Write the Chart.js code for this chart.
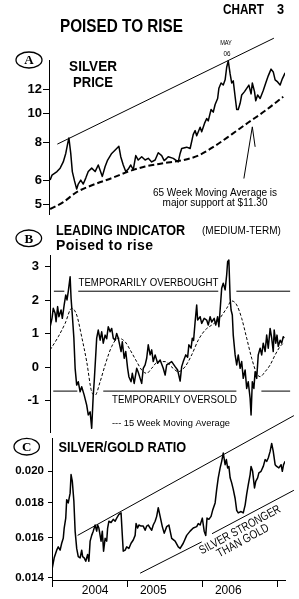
<!DOCTYPE html>
<html>
<head>
<meta charset="utf-8">
<script src="https://cdn.jsdelivr.net/npm/chart.js@4.4.1/dist/chart.umd.min.js"></script>
<style>
  html, body { margin: 0; padding: 0; background: #fff; }
  #wrap { position: relative; width: 299px; height: 599px; overflow: hidden; }
  #wrap canvas { position: absolute; left: 0; top: 0; }
</style>
</head>
<body>
<div id="wrap">
  <canvas id="silverChart" width="299" height="599"></canvas>
  <canvas id="indicatorChart" width="299" height="599"></canvas>
  <canvas id="ratioChart" width="299" height="599"></canvas>
</div>
<script>
// x values are months since January 2004
var silverPrice = [[-0.3,6.03],[0.0,6.26],[0.8,6.43],[1.3,6.6],[1.8,6.92],[2.2,7.38],[2.5,7.93],[2.7,8.3],[3.0,7.38],[3.25,6.43],[3.6,5.99],[3.95,5.63],[4.2,5.85],[4.6,6.03],[5.0,5.85],[5.4,6.12],[5.8,6.43],[6.35,6.6],[6.9,6.43],[7.4,6.76],[8.05,6.2],[8.5,6.68],[8.9,7.02],[9.55,7.38],[10.35,7.66],[10.7,7.79],[11.0,7.2],[11.4,6.76],[11.8,6.43],[12.2,6.55],[12.6,6.76],[13.0,6.52],[13.4,7.26],[13.8,7.02],[14.35,7.2],[14.9,7.02],[15.4,7.11],[15.95,6.92],[16.5,7.02],[17.0,7.42],[17.55,7.26],[17.95,6.99],[18.35,7.11],[18.6,7.2],[19.4,7.11],[20.2,6.92],[20.5,7.38],[20.75,7.66],[21.55,7.74],[22.1,7.66],[22.6,8.53],[22.9,8.78],[23.15,8.44],[23.7,9.0],[23.95,8.7],[24.4,9.27],[24.75,9.62],[25.0,9.45],[25.45,10.3],[25.8,10.1],[26.1,10.7],[26.5,11.2],[26.7,12.1],[27.05,12.6],[27.4,12.4],[27.7,12.9],[27.95,14.2],[28.2,14.9],[28.5,13.5],[28.75,12.6],[29.0,12.8],[29.3,11.35],[29.55,10.3],[29.8,10.3],[30.1,10.8],[30.35,11.5],[30.8,11.8],[31.5,12.4],[31.85,11.6],[32.05,12.6],[32.4,11.8],[32.6,11.0],[32.9,11.5],[33.3,11.2],[33.8,11.9],[34.2,12.6],[34.6,13.3],[35.05,14.0],[35.4,13.7],[35.7,12.9],[36.1,12.7],[36.5,12.4],[36.85,13.0],[37.3,13.6]];
var silverAverage = [[-0.3,4.84],[1.8,5.1],[3.95,5.5],[6.9,5.85],[9.55,6.12],[12.2,6.43],[14.9,6.68],[17.8,6.85],[20.75,7.0],[23.4,7.26],[26.1,7.82],[28.75,8.53],[31.4,9.33],[34.1,10.2],[37.0,11.35]];
var silverTrend = [[0.85,7.92],[35.5,17.7]];
var silverPointer = [[30.7,6.1],[32.05,9.03],[32.5,7.76]];
var silverTicks = [5, 6, 8, 10, 12];

var indicator = [[-0.3,1.21],[0.0,1.46],[0.2,1.76],[0.5,1.61],[0.65,1.36],[0.9,1.81],[1.1,1.51],[1.45,1.71],[1.65,1.46],[1.95,1.86],[2.2,2.16],[2.4,2.01],[2.6,2.26],[2.9,2.7],[3.05,2.06],[3.25,1.56],[3.5,0.87],[3.7,-0.03],[3.95,-0.53],[4.2,-0.43],[4.5,-0.73],[4.75,-0.58],[5.15,-0.83],[5.55,-1.13],[5.8,-1.42],[6.1,-1.33],[6.35,-1.82],[6.6,-0.83],[6.75,-0.43],[7.0,0.37],[7.15,0.87],[7.4,1.11],[7.7,0.81],[7.95,1.06],[8.2,0.72],[8.5,0.96],[8.75,0.85],[9.0,1.21],[9.3,1.06],[9.55,1.16],[9.8,0.87],[10.1,0.81],[10.35,1.01],[10.6,0.87],[11.05,0.47],[11.25,0.76],[11.55,0.27],[11.8,0.47],[12.1,-0.03],[12.3,-0.28],[12.65,-0.43],[12.85,-0.18],[13.15,-0.48],[13.55,-0.03],[13.8,-0.15],[14.1,-0.33],[14.35,-0.48],[14.6,-0.03],[14.9,0.07],[15.15,0.27],[15.4,0.67],[15.7,0.37],[15.95,0.52],[16.2,0.17],[16.5,0.37],[16.9,0.12],[17.3,0.22],[17.8,-0.03],[18.1,-0.23],[18.35,0.07],[18.6,0.1],[19.15,0.17],[19.7,0.02],[20.1,-0.08],[20.5,-0.41],[20.75,0.02],[21.0,0.17],[21.4,0.37],[21.7,0.3],[21.9,0.67],[22.25,0.57],[22.45,0.87],[22.65,0.8],[22.9,1.36],[23.15,1.86],[23.3,1.41],[23.7,1.51],[23.95,1.31],[24.35,1.46],[24.75,1.41],[25.0,1.26],[25.3,1.51],[25.55,1.35],[25.95,1.46],[26.2,1.26],[26.5,1.51],[26.7,1.21],[26.9,1.71],[27.15,2.36],[27.4,2.51],[27.7,2.31],[27.95,2.76],[28.1,3.15],[28.3,3.2],[28.5,2.06],[28.65,1.71],[28.85,1.56],[29.0,0.96],[29.3,0.37],[29.55,0.07],[29.8,0.37],[30.1,-0.03],[30.35,0.17],[30.6,-0.33],[30.9,-0.08],[31.15,-0.63],[31.4,-0.43],[31.7,-0.93],[31.85,-1.42],[32.05,-0.43],[32.3,-0.63],[32.5,-0.13],[32.75,-0.33],[33.0,0.37],[33.3,0.57],[33.55,0.37],[33.8,0.72],[34.1,0.47],[34.35,0.96],[34.6,0.57],[34.9,1.16],[35.15,0.87],[35.4,0.47],[35.55,1.11],[35.8,0.72],[36.0,0.96],[36.2,0.62],[36.5,0.81],[36.75,0.72],[37.0,0.91],[37.15,0.87]];
var indicatorAverage = [[-0.3,0.52],[1.0,0.91],[2.1,1.31],[3.15,1.76],[3.95,1.56],[4.75,0.91],[5.55,0.17],[6.35,-0.73],[6.9,-0.83],[7.7,-0.43],[8.5,0.07],[9.55,0.62],[10.6,0.87],[11.7,0.76],[12.5,0.52],[13.55,0.17],[14.35,-0.08],[15.15,-0.18],[15.95,-0.03],[17.0,0.17],[18.1,0.17],[19.2,0.0],[20.2,-0.13],[21.3,0.02],[22.35,0.37],[23.4,0.81],[24.5,1.11],[25.55,1.26],[26.6,1.41],[27.95,1.76],[28.75,1.98],[29.55,1.86],[30.35,1.46],[31.15,0.87],[31.95,0.27],[32.75,-0.18],[33.3,-0.28],[34.1,-0.13],[34.9,0.07],[35.7,0.37],[36.5,0.62],[37.0,0.72]];
var overbought = 2.27;
var oversold = -0.71;
var overboughtSegments = [[0.3,1.97],[4.2,26.6],[29.5,38.1]];
var oversoldSegments = [[0.2,4.05],[8.2,29.5],[33.5,38.1]];
var indicatorTicks = [-1, 0, 1, 2, 3];

var ratio = [[0.05,0.01448],[0.35,0.01497],[0.75,0.01536],[1.0,0.01553],[1.3,0.01536],[1.55,0.01572],[1.8,0.01598],[1.95,0.01654],[2.2,0.0171],[2.35,0.01819],[2.6,0.01799],[2.9,0.01859],[3.05,0.01978],[3.25,0.01934],[3.5,0.01809],[3.7,0.01637],[3.95,0.01545],[4.2,0.01503],[4.5,0.01497],[4.75,0.01536],[4.9,0.01503],[5.15,0.01497],[5.4,0.0148],[5.7,0.01514],[5.9,0.0148],[6.1,0.01583],[6.35,0.01614],[6.6,0.01637],[6.9,0.01671],[7.15,0.01637],[7.3,0.01671],[7.5,0.01654],[7.85,0.01583],[8.05,0.01637],[8.25,0.01531],[8.5,0.01598],[8.75,0.01583],[8.9,0.01654],[9.1,0.01692],[9.45,0.01685],[9.8,0.01703],[10.1,0.01692],[10.35,0.0171],[10.7,0.01731],[11.05,0.0174],[11.25,0.01614],[11.4,0.01531],[11.7,0.01536],[11.95,0.01553],[12.3,0.01545],[12.65,0.01572],[13.0,0.01589],[13.3,0.01614],[13.45,0.01679],[13.7,0.01654],[13.9,0.01671],[14.25,0.01665],[14.6,0.01665],[14.9,0.01642],[15.15,0.01665],[15.4,0.01671],[15.7,0.01654],[15.95,0.01642],[16.2,0.01671],[16.5,0.01692],[16.75,0.0172],[17.0,0.01771],[17.3,0.0172],[17.65,0.01662],[17.95,0.01626],[18.35,0.01662],[18.7,0.01671],[19.15,0.01598],[19.7,0.01583],[20.2,0.01553],[20.5,0.01545],[21.0,0.01572],[21.55,0.01614],[22.1,0.01637],[22.6,0.01654],[23.15,0.01662],[23.4,0.01679],[23.7,0.01671],[24.05,0.0171],[24.35,0.01637],[24.6,0.01614],[24.8,0.0171],[25.1,0.01703],[25.45,0.0172],[25.7,0.01755],[26.1,0.01799],[26.35,0.01883],[26.6,0.01957],[26.9,0.02023],[27.15,0.02068],[27.4,0.02126],[27.7,0.02045],[27.9,0.0208],[28.1,0.02023],[28.3,0.02033],[28.5,0.01957],[28.75,0.01924],[29.0,0.01883],[29.3,0.01826],[29.55,0.01755],[29.8,0.0174],[30.25,0.01748],[30.6,0.0174],[30.9,0.01786],[31.15,0.01853],[31.4,0.01912],[31.7,0.01978],[31.85,0.02033],[32.1,0.02],[32.4,0.01892],[32.6,0.01934],[32.9,0.01957],[33.1,0.0199],[33.45,0.02],[33.8,0.02033],[34.1,0.0208],[34.35,0.02068],[34.6,0.02091],[34.9,0.02138],[35.15,0.02196],[35.4,0.02138],[35.7,0.02045],[35.95,0.02033],[36.3,0.02023],[36.65,0.02045],[36.85,0.02],[37.05,0.02045],[37.3,0.02068]];
var ratioUpperTrend = [[4.1,0.01614],[38.7,0.0241]];
var ratioLowerTrend = [[14.1,0.01422],[23.95,0.01579],[24.8,null],[25.6,0.01623],[38.7,0.01877]];
var ratioTicks = [0.014, 0.016, 0.018, 0.020];

var yearLabels = ['2004', '2005', '2006'];
var yearLabelMonths = [6.9, 16.2, 28.2];
var yearTickMonths = [0, 12, 24, 36];

var X_MAX = 37.28;
var SANS = "'Liberation Sans', Arial, sans-serif";
var SERIF = "'Liberation Serif', 'Times New Roman', serif";

function toPoints(pairs) {
  return pairs.map(function (p) { return { x: p[0], y: p[1] }; });
}

function levelLine(segments, level) {
  var pts = [];
  segments.forEach(function (s) {
    pts.push({ x: s[0], y: level }, { x: s[1], y: level }, { x: s[1], y: null });
  });
  return pts;
}

// free text (squeezed horizontally where the original face is condensed) and the lettered ellipses
var notesPlugin = {
  id: 'notes',
  afterDraw: function (chart, args, opts) {
    var ctx = chart.ctx;
    (opts.circles || []).forEach(function (c) {
      ctx.save();
      ctx.strokeStyle = '#000';
      ctx.lineWidth = 1.3;
      ctx.beginPath();
      ctx.ellipse(c.x, c.y, c.rx, c.ry, 0, 0, Math.PI * 2);
      ctx.stroke();
      ctx.font = 'bold 13px ' + SERIF;
      ctx.fillStyle = '#000';
      ctx.textAlign = 'center';
      ctx.textBaseline = 'middle';
      ctx.fillText(c.text, c.x, c.y + 1);
      ctx.restore();
    });
    (opts.items || []).forEach(function (t) {
      ctx.save();
      ctx.font = t.font;
      ctx.fillStyle = '#000';
      ctx.textAlign = t.align || 'left';
      ctx.textBaseline = t.baseline || 'alphabetic';
      ctx.letterSpacing = (t.spacing || 0) + 'px';
      ctx.translate(t.x, t.y);
      if (t.rotate) ctx.rotate(t.rotate * Math.PI / 180);
      ctx.scale(t.stretch || 1, 1);
      ctx.fillText(t.text, 0, 0);
      ctx.restore();
    });
  }
};
Chart.register(notesPlugin);

function yAxis(type, min, max, ticks, width, tickLength, pad, font, fmt) {
  return {
    type: type,
    min: min,
    max: max,
    bounds: 'data',
    afterBuildTicks: function (s) { s.ticks = ticks.map(function (v) { return { value: v }; }); },
    afterFit: function (s) { s.width = width; },
    border: { display: true, color: '#000', width: 1 },
    grid: { drawOnChartArea: false, drawTicks: true, tickLength: tickLength, color: '#000' },
    ticks: { autoSkip: false, padding: pad, color: '#000', font: font, callback: fmt }
  };
}

function hiddenX(min) {
  return { type: 'linear', min: min, max: X_MAX, display: false };
}

function baseOptions(top, bottom, scales, notes) {
  return {
    responsive: false,
    animation: false,
    events: [],
    layout: { padding: { top: top, bottom: bottom, left: 0, right: 14 } },
    elements: { point: { radius: 0 }, line: { tension: 0, borderJoinStyle: 'round' } },
    plugins: { legend: { display: false }, tooltip: { enabled: false }, notes: notes },
    scales: scales
  };
}

var tickFont = { family: SANS, size: 13, weight: 'bold' };

new Chart(document.getElementById('silverChart'), {
  type: 'line',
  data: {
    datasets: [
      { data: toPoints(silverPrice), borderColor: '#000', borderWidth: 1.5 },
      { data: toPoints(silverAverage), borderColor: '#000', borderWidth: 2, borderDash: [6, 3], cubicInterpolationMode: 'monotone' },
      { data: toPoints(silverTrend), borderColor: '#000', borderWidth: 1, clip: false },
      { data: toPoints(silverPointer), borderColor: '#000', borderWidth: 1, clip: false }
    ]
  },
  options: baseOptions(60, 385, {
    x: hiddenX(-0.48),
    y: yAxis('logarithmic', 4.66, 15.0, silverTicks, 49, 6, 1, tickFont, function (v) { return String(v); })
  }, {
    circles: [{ text: 'A', x: 29, y: 60, rx: 13, ry: 8 }],
    items: [
      { text: 'CHART', x: 223, y: 14, font: 'bold 15px ' + SANS, stretch: 0.78 },
      { text: '3', x: 277, y: 14, font: 'bold 15px ' + SANS, stretch: 0.85 },
      { text: 'POISED TO RISE', x: 60, y: 32, font: 'bold 18px ' + SANS, stretch: 0.85 },
      { text: 'SILVER', x: 93, y: 71, align: 'center', font: 'bold 15px ' + SANS, stretch: 0.9 },
      { text: 'PRICE', x: 93, y: 86.5, align: 'center', font: 'bold 15px ' + SANS, stretch: 0.87 },
      { text: 'MAY', x: 226, y: 45, align: 'center', font: '7px ' + SANS, stretch: 0.8 },
      { text: '06', x: 227, y: 56, align: 'center', font: '7px ' + SANS, stretch: 0.9 },
      { text: '65 Week Moving Average is', x: 215, y: 196, align: 'center', font: '10px ' + SANS },
      { text: 'major support at $11.30', x: 215, y: 206, align: 'center', font: '10px ' + SANS }
    ]
  })
});

new Chart(document.getElementById('indicatorChart'), {
  type: 'line',
  data: {
    datasets: [
      { data: toPoints(indicator), borderColor: '#000', borderWidth: 1.5 },
      { data: toPoints(indicatorAverage), borderColor: '#000', borderWidth: 1, borderDash: [3, 2], cubicInterpolationMode: 'monotone' },
      { data: levelLine(overboughtSegments, overbought), borderColor: '#000', borderWidth: 1, clip: false },
      { data: levelLine(oversoldSegments, oversold), borderColor: '#000', borderWidth: 1, clip: false }
    ]
  },
  options: baseOptions(255, 167, {
    x: hiddenX(-0.32),
    y: yAxis('linear', -1.93, 3.35, indicatorTicks, 50, 5, 6, tickFont, function (v) { return String(v); })
  }, {
    circles: [{ text: 'B', x: 28.8, y: 238.3, rx: 12.8, ry: 8.3 }],
    items: [
      { text: 'LEADING INDICATOR', x: 56, y: 234.5, font: 'bold 14px ' + SANS, stretch: 0.9 },
      { text: '(MEDIUM-TERM)', x: 202, y: 234, font: '10px ' + SANS },
      { text: 'Poised to rise', x: 56, y: 250, font: 'bold 14px ' + SANS, spacing: 0.4 },
      { text: 'TEMPORARILY OVERBOUGHT', x: 78.5, y: 286, font: '11.5px ' + SANS, stretch: 0.84 },
      { text: 'TEMPORARILY OVERSOLD', x: 112, y: 403, font: '11.5px ' + SANS, stretch: 0.84 },
      { text: '--- 15 Week Moving Average', x: 112, y: 426, font: '9.3px ' + SANS }
    ]
  })
});

new Chart(document.getElementById('ratioChart'), {
  type: 'line',
  data: {
    datasets: [
      { data: toPoints(ratio), borderColor: '#000', borderWidth: 1.5 },
      { data: toPoints(ratioUpperTrend), borderColor: '#000', borderWidth: 1, clip: false },
      { data: toPoints(ratioLowerTrend), borderColor: '#000', borderWidth: 1, clip: false }
    ]
  },
  options: baseOptions(438, 0, {
    x: {
      type: 'linear',
      min: 0,
      max: X_MAX,
      position: 'bottom',
      afterBuildTicks: function (s) {
        s.ticks = yearTickMonths.concat(yearLabelMonths)
          .sort(function (a, b) { return a - b; })
          .map(function (v) { return { value: v }; });
      },
      afterFit: function (s) { s.height = 19; },
      border: { display: true, color: '#000', width: 1 },
      grid: {
        drawOnChartArea: false,
        tickLength: 7,
        color: function (c) {
          return c.tick && yearTickMonths.indexOf(c.tick.value) >= 0 ? '#000' : 'rgba(0,0,0,0)';
        }
      },
      ticks: {
        autoSkip: false,
        maxRotation: 0,
        minRotation: 0,
        padding: -4,
        color: '#000',
        font: { family: SANS, size: 12 },
        callback: function (v) {
          var i = yearLabelMonths.indexOf(v);
          return i < 0 ? '' : yearLabels[i];
        }
      }
    },
    y: yAxis('logarithmic', 0.0139, 0.02236, ratioTicks, 52, 4, 4,
      { family: SANS, size: 11.5, weight: 'bold' },
      function (v) { return v.toFixed(3); })
  }, {
    circles: [{ text: 'C', x: 26.7, y: 446.7, rx: 12.7, ry: 8.3 }],
    items: [
      { text: 'SILVER/GOLD RATIO', x: 58.5, y: 452, font: 'bold 15px ' + SANS, stretch: 0.85 },
      { text: 'SILVER STRONGER', x: 240, y: 530, align: 'center', baseline: 'middle', rotate: -28.5, font: '12px ' + SANS, stretch: 0.8 },
      { text: 'THAN GOLD', x: 243, y: 541, align: 'center', baseline: 'middle', rotate: -28.5, font: '12px ' + SANS, stretch: 0.82 }
    ]
  })
});
</script>
</body>
</html>
